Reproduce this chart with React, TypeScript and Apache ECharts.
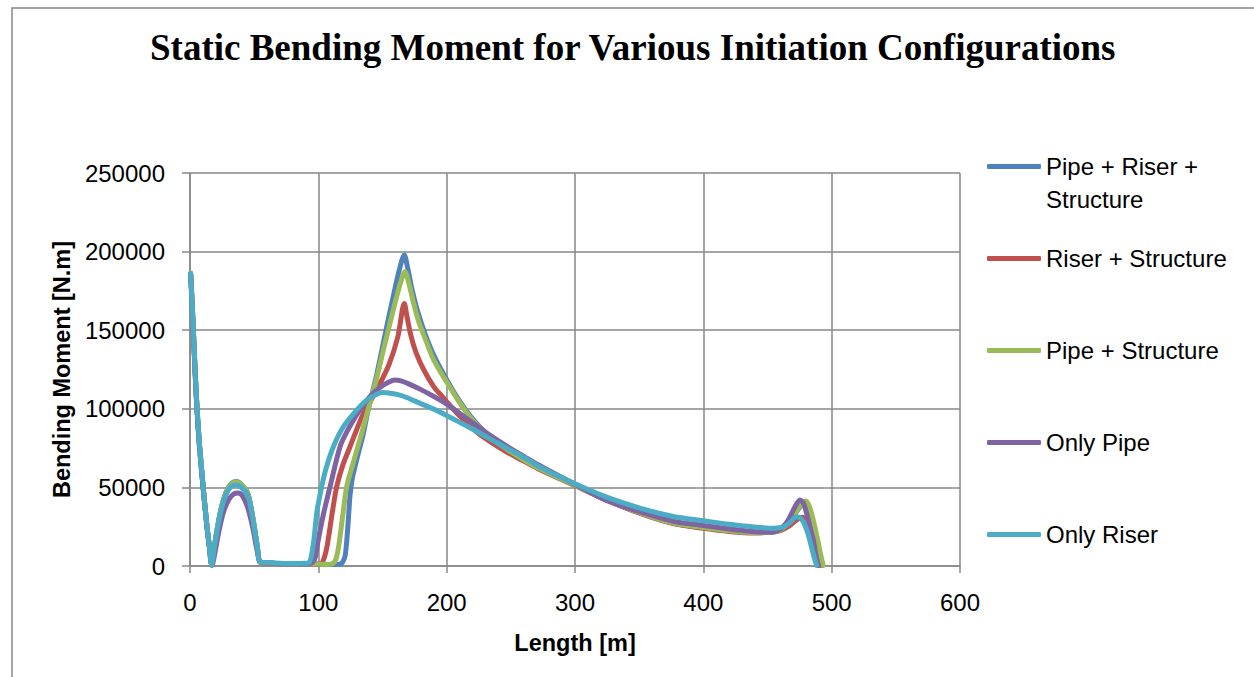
import React, { useEffect, useRef } from "react";
import * as echarts from "echarts";

// Bending moment [N.m] along the length [m] for each initiation configuration
const seriesNames = [
  "Pipe + Riser + Structure",
  "Riser + Structure",
  "Pipe + Structure",
  "Only Pipe",
  "Only Riser",
];

const seriesColors = ["#4F81BD", "#C0504D", "#9BBB59", "#8064A2", "#4BACC6"];

const pipeRiserStructure: [number, number][] = [
  [0.5, 186000], [1.5, 170000], [2.6, 150000], [4, 124000], [5.5, 100000], [7.5, 76000],
  [10.3, 50000], [13, 27000], [15, 13000], [16.9, 500],
  [19, 12500], [21.6, 25500], [24.5, 37500], [28, 46800], [32, 52300], [36.4, 53800],
  [40, 52000], [44.9, 46500], [47.5, 37500], [50.1, 25000], [52.5, 12000], [54.5, 2500],
  [60, 2000], [70, 1500], [80, 1200], [90, 1300], [100, 1200], [110, 1000], [117, 1200],
  [119, 2500], [121, 7000], [123, 25000], [124.7, 45000], [126.5, 56000], [130, 68000],
  [135, 84000], [139, 100000], [145, 120000], [152.7, 150000], [158, 170000], [163, 188000],
  [167, 197800], [169.5, 190000], [173, 176000], [177, 163000], [183, 148000], [190, 134000],
  [200, 118500], [210, 105000], [220.8, 93000], [233, 83000], [246.8, 74500], [260, 67800],
  [272.7, 62000], [300, 51300], [324.7, 42000], [350.6, 33800], [376.6, 27200], [400, 24400],
  [420, 22500], [440, 21500], [452, 21500], [460, 23000], [467, 28000], [473, 35000],
  [477, 39000], [480, 40000], [483, 35500], [486, 26000], [489, 15000], [491, 6000], [492.5, 300],
];

const riserStructure: [number, number][] = [
  [0.5, 186000], [1.5, 170000], [2.6, 150000], [4, 124000], [5.5, 100000], [7.5, 76000],
  [10.3, 50000], [13, 27000], [15, 13000], [16.9, 500],
  [19, 12000], [21.6, 25000], [24.5, 37000], [28, 46000], [32, 51500], [36.4, 53000],
  [40, 51200], [44.9, 46000], [47.5, 37000], [50.1, 24800], [52.5, 12000], [54.5, 2500],
  [60, 2000], [70, 1500], [80, 1200], [90, 1300], [98, 1200], [102, 1500],
  [104.5, 5000], [107, 13400], [110.5, 32000], [114.3, 50400], [119, 64000], [124.7, 75870],
  [130, 87000], [135.1, 97000], [140, 104000], [145.5, 112000], [155, 128000], [162, 146000],
  [167, 167000], [169, 159000], [172, 147000], [176, 136000], [182, 125000], [190, 114000],
  [195.5, 108800], [200, 104500], [210, 95500], [220.8, 87000], [233, 79500], [246.8, 72500],
  [260, 66800], [272.7, 61300], [300, 51200], [324.7, 41800], [350.6, 33500], [376.6, 27000],
  [400, 24000], [420, 22000], [440, 21000], [452, 21500], [460, 22500], [467, 25500],
  [473, 29500], [477, 31000], [480, 29000], [483, 22000], [486, 13000], [489, 4000], [490.5, 300],
];

const pipeStructure: [number, number][] = [
  [0.5, 186000], [1.5, 170000], [2.6, 150000], [4, 124000], [5.5, 100000], [7.5, 76000],
  [10.3, 50000], [13, 27000], [15, 13000], [16.9, 500],
  [19, 12300], [21.6, 25200], [24.5, 37200], [28, 46500], [32, 52000], [36.4, 53500],
  [40, 51700], [44.9, 46300], [47.5, 37300], [50.1, 25000], [52.5, 12000], [54.5, 2500],
  [60, 2000], [70, 1500], [80, 1200], [90, 1300], [100, 1200], [106, 1000], [110, 1200],
  [113.5, 4000], [116, 13400], [119, 32000], [122.1, 50400], [128, 68000], [134, 85000],
  [139, 100200], [145, 118000], [150, 135000], [154.5, 150100], [160, 168000], [164, 180000],
  [167.5, 187200], [170.5, 180000], [174, 168000], [178, 156000], [184, 143000], [190, 131000],
  [200, 117000], [210, 104000], [220.8, 92000], [233, 82500], [246.8, 74300], [260, 67600],
  [272.7, 61800], [300, 51300], [324.7, 42000], [350.6, 33800], [376.6, 27300], [400, 24500],
  [420, 22500], [440, 21300], [452, 21300], [460, 23000], [467, 28000], [473, 35500],
  [477, 40000], [480, 41300], [483, 37000], [486, 28000], [489, 17000], [491.5, 7000], [493.5, 300],
];

const onlyPipe: [number, number][] = [
  [0.5, 185000], [1.5, 168000], [2.6, 148000], [4, 122000], [5.5, 98000], [7.5, 74000],
  [10.3, 48500], [13, 26000], [15, 12500], [17.2, 500],
  [20, 11000], [22.5, 22000], [26, 34000], [30, 42000], [34, 45800], [37.5, 46400],
  [41, 44500], [45, 37000], [49, 24000], [52, 11000], [55, 2500],
  [60, 2000], [70, 1500], [80, 1200], [90, 1300], [95, 2000],
  [97.5, 5000], [99.2, 13400], [104, 33000], [109.1, 50400], [116.9, 75900], [122, 85000],
  [127.3, 92800], [133, 100000], [140, 107500], [148, 113500], [155, 117000], [159.7, 118300],
  [165, 117600], [170, 116000], [180, 112200], [190, 107800], [200, 103000], [210, 97200],
  [220.8, 90800], [233, 83600], [246.8, 76300], [260, 69800], [272.7, 63800], [300, 52000],
  [324.7, 41700], [350.6, 34400], [376.6, 28500], [400, 25800], [420, 23500], [440, 21800],
  [452, 21500], [460, 23500], [466, 29000], [471, 37000], [475.3, 42000], [478, 40000],
  [480.5, 33500], [483, 25000], [485.7, 16500], [488, 6000], [489.6, 300],
];

const onlyRiser: [number, number][] = [
  [0.5, 186000], [1.5, 170000], [2.6, 150000], [4, 124000], [5.5, 100000], [7.5, 76000],
  [10.3, 50000], [13, 27000], [15, 13000], [16.9, 500],
  [19, 12000], [21.6, 24800], [24.5, 36500], [28, 45500], [32, 50500], [36.4, 51500],
  [40, 50000], [44.9, 45200], [47.5, 36500], [50.1, 24500], [52.5, 12000], [54.5, 2500],
  [60, 2200], [70, 1800], [80, 1600], [90, 1800], [93, 2200],
  [96, 13400], [99, 35000], [102.6, 50400], [106, 62000], [111.7, 75900], [119.5, 88600],
  [129.9, 99200], [137.7, 105500], [145.5, 109300], [150, 110300], [155, 110000],
  [163.6, 108700], [168.8, 107200], [180, 103200], [190, 99800], [200, 95800], [210, 91500],
  [220.8, 86800], [233, 81200], [246.8, 75000], [260, 69200], [272.7, 63000], [300, 52300],
  [324.7, 43800], [350.6, 36800], [376.6, 31500], [400, 28800], [420, 26500], [440, 24800],
  [455, 24000], [463, 25000], [468, 28000], [472.7, 31400], [475.5, 30500], [478, 28000],
  [481, 22000], [484, 13000], [486.5, 5000], [488.3, 300],
];

const seriesData = [pipeRiserStructure, riserStructure, pipeStructure, onlyPipe, onlyRiser];

const titleText = "Static Bending Moment for Various Initiation Configurations";
const xAxisTitle = "Length [m]";
const yAxisTitle = "Bending Moment [N.m]";

const gridGray = "#878787";
const sansFont = "Liberation Sans";

export default function App() {
  const ref = useRef<HTMLDivElement>(null);

  useEffect(() => {
    if (!ref.current) return;
    const chart = echarts.init(ref.current, null, { renderer: "svg" });

    const legendText = {
      fontFamily: sansFont,
      fontSize: 24,
      lineHeight: 33,
      color: "#000",
    };

    const axisTitleStyle = {
      fontFamily: sansFont,
      fontWeight: "bold",
      fontSize: 23.5,
      color: "#000",
    };

    chart.setOption({
      animation: false,
      backgroundColor: "#ffffff",
      title: {
        text: titleText,
        left: 145,
        top: 24,
        padding: 5,
        textStyle: {
          fontFamily: "Liberation Serif",
          fontWeight: "bold",
          fontSize: 37,
          color: "#000",
        },
      },
      graphic: [
        {
          type: "rect",
          silent: true,
          z: -10,
          shape: { x: 12, y: 8, width: 1300, height: 720 },
          style: { fill: "none", stroke: gridGray, lineWidth: 1.5 },
        },
      ],
      legend: [
        {
          data: [seriesNames[0]],
          orient: "vertical",
          left: 987,
          top: 117,
          padding: 0,
          icon: "roundRect",
          itemWidth: 54,
          itemHeight: 5,
          selectedMode: false,
          textStyle: legendText,
          formatter: () => " \nPipe + Riser +\nStructure",
        },
        {
          data: seriesNames.slice(1),
          orient: "vertical",
          left: 987,
          top: 242,
          padding: 0,
          itemGap: 59,
          icon: "roundRect",
          itemWidth: 54,
          itemHeight: 5,
          selectedMode: false,
          textStyle: legendText,
        },
      ],
      grid: { left: 190, right: 294, top: 173, bottom: 111 },
      xAxis: {
        type: "value",
        min: 0,
        max: 600,
        interval: 100,
        name: xAxisTitle,
        nameLocation: "middle",
        nameGap: 65,
        nameTextStyle: axisTitleStyle,
        axisLine: { show: true, lineStyle: { color: gridGray, width: 1.5 } },
        axisTick: { show: true, length: 7, lineStyle: { color: gridGray, width: 1.5 } },
        axisLabel: { margin: 24, fontFamily: sansFont, fontSize: 24, color: "#000" },
        splitLine: { show: true, lineStyle: { color: gridGray, width: 1.5 } },
      },
      yAxis: {
        type: "value",
        min: 0,
        max: 250000,
        interval: 50000,
        name: yAxisTitle,
        nameLocation: "middle",
        nameRotate: 90,
        nameGap: 112,
        nameTextStyle: axisTitleStyle,
        axisLine: { show: true, lineStyle: { color: gridGray, width: 1.5 } },
        axisTick: { show: true, length: 8, lineStyle: { color: gridGray, width: 1.5 } },
        axisLabel: {
          margin: 25,
          fontFamily: sansFont,
          fontSize: 24,
          color: "#000",
          formatter: (v: number) => String(v),
        },
        splitLine: { show: true, lineStyle: { color: gridGray, width: 1.5 } },
      },
      series: seriesNames.map((name, i) => ({
        name,
        type: "line",
        data: seriesData[i],
        symbol: "none",
        showSymbol: false,
        smooth: 0.3,
        color: seriesColors[i],
        lineStyle: { width: 5, color: seriesColors[i], cap: "round", join: "round" },
        emphasis: { disabled: true },
      })),
    });

    return () => chart.dispose();
  }, []);

  return (
    <div
      ref={ref}
      style={{ position: "absolute", left: 0, top: 0, width: 1254, height: 677 }}
    />
  );
}
